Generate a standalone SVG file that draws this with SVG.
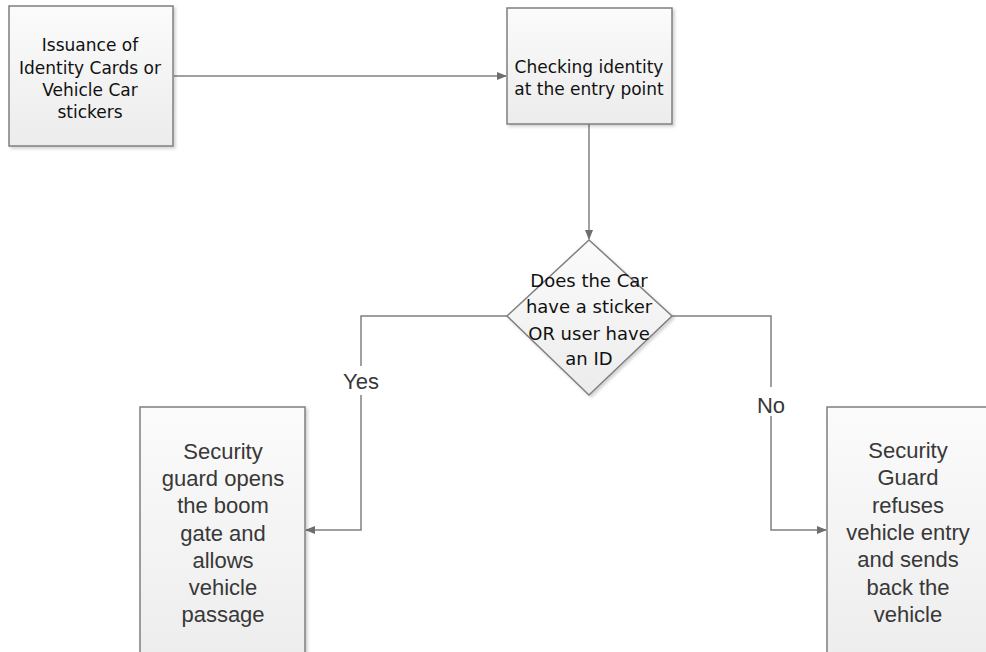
<svg xmlns="http://www.w3.org/2000/svg" width="986" height="652" viewBox="0 0 986 652">
  <style>
    .box { fill: url(#boxFill); stroke: #7f7f7f; stroke-width: 1.5; filter: url(#shadow); }
    .conn { fill: none; stroke: #808080; stroke-width: 1.5; }
    .t1 { font-family: "DejaVu Sans", Tahoma, sans-serif; font-size: 17px; fill: #111111; text-anchor: middle; }
    .t2 { font-family: "Liberation Sans", Arial, sans-serif; font-size: 22px; fill: #383838; text-anchor: middle; }
    .dec { font-size: 18px; }
  </style>
  <defs>
    <linearGradient id="boxFill" x1="0" y1="0" x2="0" y2="1">
      <stop offset="0" stop-color="#fbfbfb"/>
      <stop offset="1" stop-color="#ececec"/>
    </linearGradient>
    <filter id="shadow" x="-10%" y="-10%" width="125%" height="125%">
      <feDropShadow dx="2" dy="2" stdDeviation="1.5" flood-color="#000" flood-opacity="0.18"/>
    </filter>
    <marker id="arrow" markerWidth="10" markerHeight="10" refX="9" refY="5" orient="auto" markerUnits="userSpaceOnUse">
      <path d="M0,1 L10,5 L0,9 Z" fill="#6e6e6e"/>
    </marker>
  </defs>

  <rect width="986" height="652" fill="#ffffff"/>

  <!-- connectors -->
  <g id="connectors">
    <path class="conn" d="M174,76 H506" marker-end="url(#arrow)"/>
    <path class="conn" d="M589,124 V239" marker-end="url(#arrow)"/>
    <path class="conn" d="M507,316 H361 V366 M361,395 V530 H306" marker-end="url(#arrow)"/>
    <path class="conn" d="M672,316 H771 V387 M771,416 V530 H826" marker-end="url(#arrow)"/>
    <text class="t2" x="361" y="389">Yes</text>
    <text class="t2" x="771" y="413">No</text>
  </g>

  <!-- issuance -->
  <g id="node-issuance">
    <rect class="box" x="9" y="6" width="164" height="140"/>
    <text class="t1" x="90" y="51">Issuance of</text>
    <text class="t1" x="90" y="74">Identity Cards or</text>
    <text class="t1" x="90" y="96">Vehicle Car</text>
    <text class="t1" x="90" y="118">stickers</text>
  </g>

  <!-- checking identity -->
  <g id="node-check">
    <rect class="box" x="507" y="8" width="165" height="116"/>
    <text class="t1" x="589" y="73">Checking identity</text>
    <text class="t1" x="589" y="95">at the entry point</text>
  </g>

  <!-- decision -->
  <g id="node-decision">
    <polygon class="box" points="589,240 672,316 589,395 507,316"/>
    <text class="t1 dec" x="589" y="287">Does the Car</text>
    <text class="t1 dec" x="589" y="313">have a sticker</text>
    <text class="t1 dec" x="589" y="340">OR user have</text>
    <text class="t1 dec" x="589" y="365">an ID</text>
  </g>

  <!-- allow -->
  <g id="node-allow">
    <rect class="box" x="140" y="407" width="165" height="270"/>
    <text class="t2" x="223" y="459">Security</text>
    <text class="t2" x="223" y="486">guard opens</text>
    <text class="t2" x="223" y="513">the boom</text>
    <text class="t2" x="223" y="541">gate and</text>
    <text class="t2" x="223" y="568">allows</text>
    <text class="t2" x="223" y="595">vehicle</text>
    <text class="t2" x="223" y="622">passage</text>
  </g>

  <!-- refuse -->
  <g id="node-refuse">
    <rect class="box" x="827" y="407" width="165" height="270"/>
    <text class="t2" x="908" y="458">Security</text>
    <text class="t2" x="908" y="485">Guard</text>
    <text class="t2" x="908" y="513">refuses</text>
    <text class="t2" x="908" y="540">vehicle entry</text>
    <text class="t2" x="908" y="567">and sends</text>
    <text class="t2" x="908" y="595">back the</text>
    <text class="t2" x="908" y="622">vehicle</text>
  </g>
</svg>
